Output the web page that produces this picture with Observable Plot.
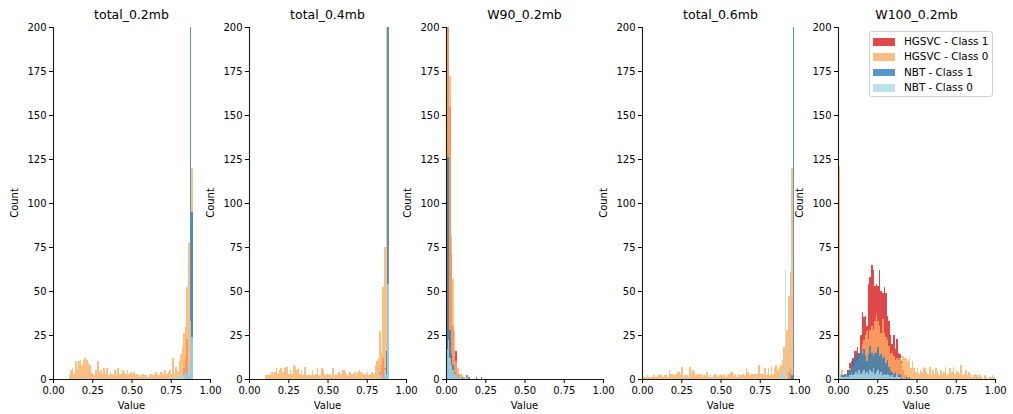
<!DOCTYPE html>
<html>
<head>
<meta charset="utf-8">
<script src="https://cdn.jsdelivr.net/npm/d3@7"></script>
<script src="https://cdn.jsdelivr.net/npm/@observablehq/plot@0.6"></script>
<style>
  html, body { margin: 0; padding: 0; background: white; }
  #chart { position: relative; width: 1013px; height: 414px; font-family: "DejaVu Sans", sans-serif; color: black; }
  .panel { position: absolute; top: 0; }
  .title { position: absolute; top: 7px; font-size: 12.5px; text-align: center; white-space: nowrap; }
  .ylab { position: absolute; font-size: 10px; transform: translate(-50%, -50%) rotate(-90deg); white-space: nowrap; }
  .xlab { position: absolute; font-size: 10px; transform: translate(-50%, -50%); white-space: nowrap; }
  .legend { position: absolute; left: 869px; top: 31px; width: 122px; height: 64px; border: 1px solid #d0d0d0; border-radius: 3px; background: rgba(255,255,255,0.8); font-size: 10.4px; }
  .legend .row { position: absolute; left: 3px; height: 12px; white-space: nowrap; }
  .legend .sw { position: absolute; left: 0; top: 2px; width: 22px; height: 7.5px; }
  .legend .lt { position: absolute; left: 31px; top: -1px; }
</style>
</head>
<body>
<div id="chart"></div>
<script>
// ---------- data ----------
const panelTitles = ["total_0.2mb", "total_0.4mb", "W90_0.2mb", "total_0.6mb", "W100_0.2mb"];
const seriesNames = ["HGSVC - Class 1", "HGSVC - Class 0", "NBT - Class 1", "NBT - Class 0"];
const seriesColors = ["#d7191c", "#fdae61", "#2c7bb6", "#abd9e9"];
const xTicks = [0, 0.25, 0.5, 0.75, 1];
const yTicks = [0, 25, 50, 75, 100, 125, 150, 175, 200];
const binWidth = 0.01;

// each series: first bin index, then counts per 0.01 bin
// total_0.2mb
const t02_hg1_start = 82, t02_hg1 = [3, 6, 12, 23, 8];
const t02_hg0_start = 10, t02_hg0 = [2,5,6,3,10,5,10,11,8,11, 12,11,9,8,4,3,2,5,10,4, 5,3,6,3,6,2,4,3,2,5, 2,6,3,3,5,4,3,5,3,4, 3,4,2,3,1,2,2,3,2,2, 1,2,3,2,2,4,3,2,4,4, 2,5,3,4,5,3,12,3,7,4, 10,14,18,26,30,52,77,20,120];
const t02_nb1_start = 84, t02_nb1 = [2, 3, 2, 250, 95];
const t02_nb0_start = 15, t02_nb0 = [0,0,1,0,1,0,1,0,0,0, 0,0,0,1,0,0,0,0,1,0, 0,1,0,0,0,0,0,0,0,0, 1,0,0,0,0,1,0,0,0,0, 0,1,0,0,0,0,0,1,0,0, 0,1,0,0,0,1,0,0,0,1, 0,0,1,0,2,3,1,5,2,4, 3,8,33,24];

// total_0.4mb
const t04_hg1_start = 83, t04_hg1 = [4, 8, 12, 6];
const t04_hg0_start = 10, t04_hg0 = [2,2,2,2,4,2,4,6,3,5, 6,4,6,7,7,3,5,3,8,7, 5,6,3,5,2,7,2,2,3,2, 5,2,3,6,2,2,6,5,2,3, 2,3,1,6,2,2,3,4,3,5, 5,4,2,2,4,3,3,4,2,4, 5,4,3,2,3,4,2,3,4,3, 8,10,12,27,15,52,75,250];
const t04_nb1_start = 86, t04_nb1 = [3, 16, 250];
const t04_nb0_start = 20, t04_nb0 = [0,0,0,0,1,0,0,0,0,0, 0,0,0,0,0,1,0,0,0,0, 0,0,0,0,1,0,0,0,0,0, 0,0,0,0,1,0,0,0,0,0, 0,0,0,0,0,0,1,0,0,0, 0,0,0,0,0,0,1,0,0,0, 0,0,0,2,3,0,5,3,54];

// W90_0.2mb
const w90_hg1_start = 0, w90_hg1 = [250,250,155,71,30,13,16,3,2,1, 0,0,0,0,0,0,0,0,0,1, 0,0,1];
const w90_hg0_start = 0, w90_hg0 = [250,250,172,81,57,28,10,6,3,3, 2,1,1];
const w90_nb1_start = 0, w90_nb1 = [126,126,28,15,8,4,2,1,1,0, 1,0,0,2,1];
const w90_nb0_start = 0, w90_nb0 = [17,22,12,8,5,3,2,1,1,1, 0,0,0,1];

// total_0.6mb
const t06_hg1_start = 93, t06_hg1 = [4, 6];
const t06_hg0_start = 0, t06_hg0 = [1,1,1,2,1,1,1,2,1,1, 3,2,2,1,2,3,1,5,3,3, 2,3,4,4,2,7,1,2,2,1, 7,3,5,4,2,3,2,3,1,2, 2,4,1,2,1,2,3,2,1,2, 3,2,3,1,2,3,4,4,2,3, 1,3,2,2,3,2,6,4,2,3, 3,3,3,3,8,3,3,3,6,2, 6,2,7,3,6,8,5,7,8,11, 18,20,28,47,61,120];
const t06_nb1_start = 95, t06_nb1 = [2, 250];
const t06_nb0_start = 15, t06_nb0 = [1,0,0,0,0,0,0,0,1,0, 0,0,0,0,0,1,0,0,0,0, 0,0,0,0,0,0,0,0,0,1, 0,0,0,0,0,0,0,0,0,0, 0,0,0,1,0,0,0,0,0,0, 0,0,0,0,0,0,0,1,0,0, 0,0,0,0,0,0,0,1,0,0, 0,0,0,2,3,5,62];

// W100_0.2mb
const w100_hg1_start = 4, w100_hg1 = [1,3,5,9,10,12, 16,16,18,15,25,38,35,36,30,54, 58,65,62,53,54,53,62,50,49,52, 49,36,33,25,20,25,17,23,15,14, 10,5,2,2,1];
const w100_hg0_start = 0, w100_hg0 = [121,3,5,2,3,2,4,6,5,7, 8,10,9,12,14,20,22,25,27,23, 28,30,28,33,37,33,30,26,34,26, 24,22,19,14,15,13,11,12,11,12, 9,13,12,12,10,12,6,10,6,4, 6,3,5,4,7,6,4,3,7,2, 5,3,6,4,2,5,3,4,7,2, 3,6,4,7,3,5,4,3,8,2, 3,5,2,4,3,1,2,3,2,1, 2,1,0,2,1,0,1,1,2,1];
const w100_nb1_start = 1, w100_nb1 = [1,2,2,3,2,4,5,8,10, 11,14,13,15,16,14,17,13,10,14, 19,15,13,15,15,18,13,14,12,13, 9,11,7,5,4,3,4,2,3,2, 1,1,0,1,0,1];
const w100_nb0_start = 0, w100_nb0 = [8,2,1,1,1,2,1,2,3,2, 3,4,3,5,3,4,5,3,4,3, 5,4,6,3,4,5,3,4,2,3, 2,3,2,1,2,1,1,2,1,1, 0,1,0,0,0,0,0,0,0,0, 0,0,0,0,0,1,0,0,0,0, 0,0,0,0,0,0,0,0,0,0, 1];

const panelSeries = [
  [[t02_hg1_start, t02_hg1], [t02_hg0_start, t02_hg0], [t02_nb1_start, t02_nb1], [t02_nb0_start, t02_nb0]],
  [[t04_hg1_start, t04_hg1], [t04_hg0_start, t04_hg0], [t04_nb1_start, t04_nb1], [t04_nb0_start, t04_nb0]],
  [[w90_hg1_start, w90_hg1], [w90_hg0_start, w90_hg0], [w90_nb1_start, w90_nb1], [w90_nb0_start, w90_nb0]],
  [[t06_hg1_start, t06_hg1], [t06_hg0_start, t06_hg0], [t06_nb1_start, t06_nb1], [t06_nb0_start, t06_nb0]],
  [[w100_hg1_start, w100_hg1], [w100_hg0_start, w100_hg0], [w100_nb1_start, w100_nb1], [w100_nb0_start, w100_nb0]]
];

// ---------- drawing ----------
const chart = document.getElementById("chart");
const fmt = d3.format(".2f");
const pitch = 196.25, mL = 53, plotW = 157, mT = 27, mB = 35, H = 414;

function rows(start, counts) {
  return counts.map((c, i) => ({x1: (start + i) * binWidth, x2: (start + i + 1) * binWidth, y: c})).filter(d => d.y > 0);
}

panelTitles.forEach((title, p) => {
  const left = Math.round(pitch * p);
  const marks = panelSeries[p].map(([start, counts], s) =>
    Plot.rect(rows(start, counts), {
      x1: "x1", x2: "x2", y1: 0, y2: "y",
      fill: seriesColors[s], fillOpacity: 0.8, clip: true, shapeRendering: "crispEdges"
    })
  );
  marks.push(
    Plot.ruleX([0], {y1: 0, y2: 200, stroke: "#1a1a1a", strokeWidth: 1.1}),
    Plot.ruleY([0], {x1: 0, x2: 1, stroke: "#1a1a1a", strokeWidth: 1.1}),
    Plot.axisX({ticks: xTicks, tickFormat: fmt, tickSize: 4, tickPadding: 3, label: null}),
    Plot.axisY({ticks: yTicks, tickSize: 4, tickPadding: 3, label: null})
  );
  const svg = Plot.plot({
    width: mL + plotW + 1, height: H,
    marginLeft: mL, marginRight: 1, marginTop: mT, marginBottom: mB,
    x: {domain: [0, 1]},
    y: {domain: [0, 200]},
    style: {fontFamily: "DejaVu Sans, sans-serif", fontSize: "10px", background: "transparent", color: "black", overflow: "visible"},
    marks
  });
  svg.classList.add("panel");
  svg.style.left = left + "px";
  svg.style.position = "absolute";
  svg.style.maxWidth = "none";
  chart.appendChild(svg);

  const t = document.createElement("div");
  t.className = "title";
  t.textContent = title;
  t.style.left = (left + mL) + "px";
  t.style.width = plotW + "px";
  chart.appendChild(t);

  const yl = document.createElement("div");
  yl.className = "ylab";
  yl.textContent = "Count";
  yl.style.left = (left + 14) + "px";
  yl.style.top = ((mT + (H - mB)) / 2) + "px";
  chart.appendChild(yl);

  const xl = document.createElement("div");
  xl.className = "xlab";
  xl.textContent = "Value";
  xl.style.left = (left + mL + plotW / 2) + "px";
  xl.style.top = "405px";
  chart.appendChild(xl);
});

// legend
const lg = document.createElement("div");
lg.className = "legend";
seriesNames.forEach((name, i) => {
  const r = document.createElement("div");
  r.className = "row";
  r.style.top = (4 + i * 15.4) + "px";
  const sw = document.createElement("div");
  sw.className = "sw";
  sw.style.background = seriesColors[i];
  sw.style.opacity = 0.8;
  const lt = document.createElement("div");
  lt.className = "lt";
  lt.textContent = name;
  r.appendChild(sw);
  r.appendChild(lt);
  lg.appendChild(r);
});
chart.appendChild(lg);
</script>
</body>
</html>
